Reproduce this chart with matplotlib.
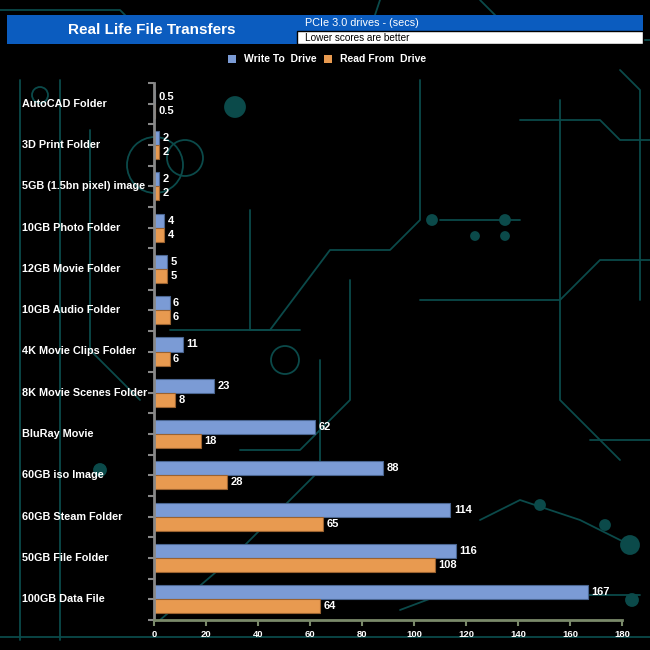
import matplotlib
matplotlib.use("Agg")
import matplotlib.pyplot as plt
from matplotlib.patches import Rectangle, Circle
import numpy as np

categories = ["AutoCAD Folder", "3D Print Folder", "5GB (1.5bn pixel) image",
              "10GB Photo Folder", "12GB Movie Folder", "10GB Audio Folder",
              "4K Movie Clips Folder", "8K Movie Scenes Folder", "BluRay Movie",
              "60GB iso Image", "60GB Steam Folder", "50GB File Folder",
              "100GB Data File"]
write_vals = [0.5, 2, 2, 4, 5, 6, 11, 23, 62, 88, 114, 116, 167]
read_vals = [0.5, 2, 2, 4, 5, 6, 6, 8, 18, 28, 65, 108, 64]
write_labels = ["0.5", "2", "2", "4", "5", "6", "11", "23", "62", "88", "114", "116", "167"]
read_labels = ["0.5", "2", "2", "4", "5", "6", "6", "8", "18", "28", "65", "108", "64"]
x_ticks = [0, 20, 40, 60, 80, 100, 120, 140, 160, 180]

plt.rcParams['font.family'] = ['Liberation Sans', 'DejaVu Sans']

W, H = 650, 650
fig = plt.figure(figsize=(6.5, 6.5), dpi=100, facecolor='black')

# background decoration axes (pixel coords)
bg = fig.add_axes([0, 0, 1, 1], zorder=0)
bg.set_xlim(0, W); bg.set_ylim(H, 0); bg.axis('off')
bg.set_facecolor('black')
teal = '#0b4a4a'
lw = 1.3
traces = [
    [(0, 10), (120, 10), (150, 40)],
    [(380, 0), (370, 30)],
    [(480, 0), (520, 40), (650, 40)],
    [(20, 80), (20, 640)],
    [(60, 80), (60, 640)],
    [(90, 130), (90, 350), (140, 400)],
    [(250, 210), (250, 330), (300, 330)],
    [(170, 330), (270, 330), (330, 250), (390, 250), (420, 220), (420, 80)],
    [(240, 450), (300, 450), (350, 400), (350, 280)],
    [(160, 620), (230, 560), (320, 470), (320, 360)],
    [(420, 300), (560, 300), (600, 260), (650, 260)],
    [(440, 220), (520, 220)],
    [(520, 120), (600, 120), (620, 140), (650, 140)],
    [(480, 520), (520, 500), (580, 520), (630, 545)],
    [(400, 610), (440, 595), (640, 595)],
    [(0, 637), (650, 637)],
    [(590, 440), (650, 440)],
    [(620, 70), (640, 90), (640, 300)],
    [(560, 100), (560, 400), (620, 460)],
]
for tr in traces:
    xs, ys = zip(*tr)
    bg.plot(xs, ys, color=teal, lw=lw, solid_capstyle='round')
for (cx, cy, r, fill) in [(235, 107, 10, True), (432, 220, 5, True), (505, 220, 5, True),
                          (505, 236, 4, True), (475, 236, 4, True), (630, 545, 9, True),
                          (605, 525, 5, True), (540, 505, 5, True), (632, 600, 6, True),
                          (185, 158, 18, False), (155, 165, 28, False), (285, 360, 14, False),
                          (40, 95, 8, False), (100, 470, 6, True)]:
    bg.add_patch(Circle((cx, cy), r, facecolor=teal if fill else 'none',
                        edgecolor=teal, lw=lw))

# title boxes
bg.add_patch(Rectangle((7, 15), 290, 29, facecolor='#0b5cbf', edgecolor='none', zorder=3))
bg.text(152, 30, "Real Life File Transfers", color='white', fontsize=11,
        fontweight='bold', ha='center', va='center', zorder=4)
bg.add_patch(Rectangle((297, 15), 346, 16, facecolor='#0b5cbf', edgecolor='none', zorder=3))
bg.add_patch(Rectangle((297, 31), 346, 13, facecolor='white', edgecolor='black', lw=1, zorder=3))
bg.text(305, 23.5, "PCIe 3.0 drives - (secs)", color='white', fontsize=7.8,
        ha='left', va='center', zorder=4)
bg.text(305, 38, "Lower scores are better", color='black', fontsize=7.2,
        ha='left', va='center', zorder=4)

# legend
bg.add_patch(Rectangle((228, 55), 8, 8, facecolor='#7b9bd5', edgecolor='none', zorder=3))
bg.text(244, 59.5, "Write To  Drive", color='white', fontsize=7.5, fontweight='bold',
        ha='left', va='center', zorder=4)
bg.add_patch(Rectangle((324, 55), 8, 8, facecolor='#e89a50', edgecolor='none', zorder=3))
bg.text(340, 59.5, "Read From  Drive", color='white', fontsize=7.5, fontweight='bold',
        ha='left', va='center', zorder=4)

# main axes
left, right, top, bottom = 154, 622, 83, 620
ax = fig.add_axes([left / W, 1 - bottom / H, (right - left) / W, (bottom - top) / H], zorder=2)
ax.patch.set_alpha(0)
n = len(categories)
y = np.arange(n)
bh = 0.34
blue = '#7b9bd5'
orange = '#e89a50'
ax.barh(y - bh / 2, write_vals, height=bh, color=blue, edgecolor='#4a6590', lw=0.8)
ax.barh(y + bh / 2, read_vals, height=bh, color=orange, edgecolor='#9a6230', lw=0.8)
for i in range(n):
    ax.text(write_vals[i] + 1.3, y[i] - bh / 2, write_labels[i], color='white', fontsize=8,
            fontweight='bold', ha='left', va='center')
    ax.text(read_vals[i] + 1.3, y[i] + bh / 2, read_labels[i], color='white', fontsize=8,
            fontweight='bold', ha='left', va='center')

ax.set_xlim(0, 180)
ax.set_ylim(n - 0.5, -0.5)
ax.set_xticks(x_ticks)
ax.set_xticklabels([str(t) for t in x_ticks], fontweight='bold')
ax.set_yticks(np.arange(-0.5, n, 1.0))
ax.set_yticklabels([])
ax.set_yticks(y, minor=True)
ax.tick_params(axis='y', which='both', length=4, color='#888888', width=1.5, direction='out')
ax.tick_params(axis='x', length=4, color='#7a8a6a', width=1.5, labelcolor='white',
               labelsize=6.8, pad=3)
for s in ['top', 'right']:
    ax.spines[s].set_visible(False)
ax.spines['left'].set_color('#888888'); ax.spines['left'].set_linewidth(2)
ax.spines['bottom'].set_color('#7a8a6a'); ax.spines['bottom'].set_linewidth(2)

for i, c in enumerate(categories):
    fig.text(22 / W, 1 - (top + (i + 0.5) * (bottom - top) / n) / H, c, color='white',
             fontsize=7.8, fontweight='bold', ha='left', va='center', zorder=5)

fig.savefig("out.png", dpi=100, facecolor='black')
